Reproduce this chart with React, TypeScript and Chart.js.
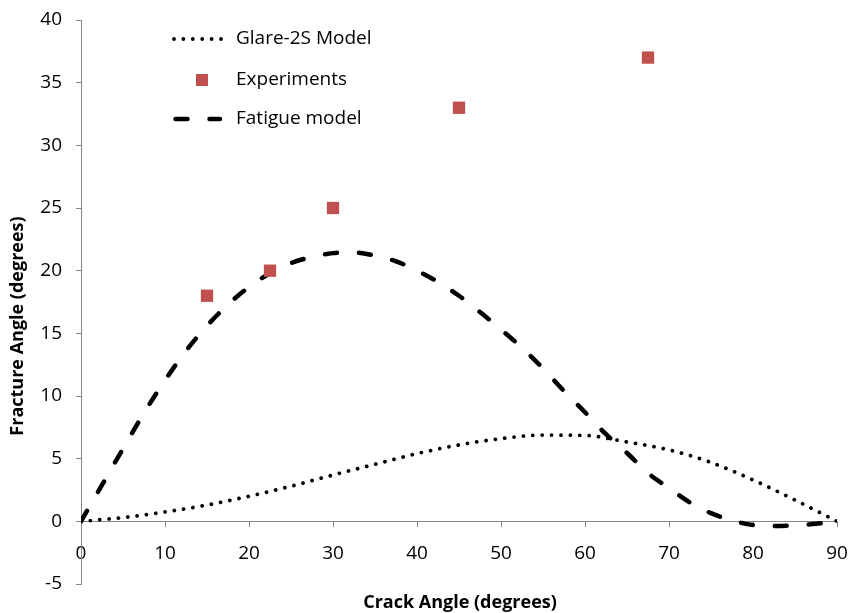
import React, { useEffect, useRef } from 'react';
import { Chart, registerables } from 'chart.js';

Chart.register(...registerables);

// ---- data ----
const glareAngles = [0, 5, 10, 15, 20, 25, 30, 35, 40, 45, 50, 55, 60, 65, 70, 75, 80, 85, 90];
const glareValues = [0, 0.3, 0.75, 1.3, 2.0, 2.8, 3.7, 4.55, 5.4, 6.1, 6.6, 6.88, 6.85, 6.33, 5.7, 4.7, 3.3, 1.7, 0];

const fatigueAngles = [0, 2.5, 5, 7.5, 10, 12.5, 15, 17.5, 20, 22.5, 25, 27.5, 30, 32.5, 35, 37.5, 40, 42.5, 45, 47.5, 50, 52.5, 55, 57.5, 60, 62.5, 65, 67.5, 70, 72.5, 75, 77.5, 80, 82.5, 85, 87.5, 90];
const fatigueValues = [0, 2.9, 5.8, 8.65, 11.25, 13.6, 15.6, 17.3, 18.7, 19.8, 20.6, 21.1, 21.4, 21.45, 21.2, 20.75, 20.0, 19.1, 18.0, 16.7, 15.3, 13.85, 12.2, 10.4, 8.7, 6.95, 5.45, 3.85, 2.65, 1.5, 0.65, 0.07, -0.3, -0.38, -0.32, -0.2, 0];

const expAngles = [15, 22.5, 30, 45, 67.5];
const expValues = [18, 20, 25, 33, 37];

const seriesNames = ['Glare-2S Model', 'Experiments', 'Fatigue model'];
const xTitle = 'Crack Angle (degrees)';
const yTitle = 'Fracture Angle (degrees)';

const xMin = 0, xMax = 90, xStep = 10;
const yMin = -5, yMax = 40, yStep = 5;

export default function App() {
  const ref = useRef<HTMLCanvasElement>(null);

  useEffect(() => {
    if (!ref.current) return;
    const font = "'Open Sans', sans-serif";
    const axisGray = '#868686';
    const expColor = '#C0504D';
    const dotDash = [0.001, 9.4];
    const longDash = [12, 22];
    const toPts = (xs: number[], ys: number[]) => xs.map((x, i) => ({ x, y: ys[i] }));

    const overlay = {
      id: 'overlay',
      afterDraw(chart: any) {
        const ctx = chart.ctx as CanvasRenderingContext2D;
        // axis titles
        ctx.save();
        ctx.fillStyle = '#000';
        ctx.font = `bold 18px ${font}`;
        ctx.textAlign = 'center';
        ctx.textBaseline = 'middle';
        ctx.fillText(xTitle, 460, 603);
        ctx.translate(18, 326);
        ctx.rotate(-Math.PI / 2);
        ctx.fillText(yTitle, 0, 0);
        ctx.restore();

        // legend
        const ds = chart.data.datasets;
        const rows = [39, 80, 119];
        ctx.save();
        ctx.font = `19px ${font}`;
        ctx.fillStyle = '#000';
        ctx.textAlign = 'left';
        ctx.textBaseline = 'middle';
        const g = ds.find((d: any) => d.label === seriesNames[0]);
        ctx.save();
        ctx.strokeStyle = g.borderColor;
        ctx.lineWidth = g.borderWidth;
        ctx.lineCap = 'round';
        ctx.setLineDash(g.borderDash);
        ctx.beginPath();
        ctx.moveTo(174, rows[0]);
        ctx.lineTo(222, rows[0]);
        ctx.stroke();
        ctx.restore();
        const e = ds.find((d: any) => d.label === seriesNames[1]);
        ctx.save();
        ctx.fillStyle = e.backgroundColor;
        ctx.fillRect(196, rows[1] - 6, 12, 12);
        ctx.restore();
        const f = ds.find((d: any) => d.label === seriesNames[2]);
        ctx.save();
        ctx.strokeStyle = f.borderColor;
        ctx.lineWidth = f.borderWidth;
        ctx.lineCap = 'round';
        ctx.setLineDash(f.borderDash);
        ctx.beginPath();
        ctx.moveTo(175.5, rows[2]);
        ctx.lineTo(220, rows[2]);
        ctx.stroke();
        ctx.restore();
        seriesNames.forEach((n, i) => ctx.fillText(n, 236, rows[i]));
        ctx.restore();
      },
    };

    const chart = new Chart(ref.current, {
      type: 'line',
      data: {
        datasets: [
          {
            label: seriesNames[1],
            data: toPts(expAngles, expValues),
            showLine: false,
            pointStyle: 'rect',
            pointRadius: 8.7,
            pointHoverRadius: 8.7,
            backgroundColor: expColor,
            borderColor: expColor,
            pointBorderWidth: 0,
            borderWidth: 0,
            order: 0,
          } as any,
          {
            label: seriesNames[2],
            data: toPts(fatigueAngles, fatigueValues),
            borderColor: '#000',
            borderWidth: 4.5,
            borderDash: longDash,
            borderCapStyle: 'round',
            pointRadius: 0,
            cubicInterpolationMode: 'monotone',
            fill: false,
            order: 1,
          } as any,
          {
            label: seriesNames[0],
            data: toPts(glareAngles, glareValues),
            borderColor: '#000',
            borderWidth: 3.8,
            borderDash: dotDash,
            borderCapStyle: 'round',
            pointRadius: 0,
            cubicInterpolationMode: 'monotone',
            fill: false,
            order: 2,
          } as any,
        ],
      },
      options: {
        responsive: false,
        animation: false,
        devicePixelRatio: 1,
        layout: { autoPadding: false, padding: { top: 20, right: 13, bottom: 29, left: 0 } },
        plugins: {
          legend: { display: false },
          tooltip: { enabled: false },
        },
        scales: {
          x: {
            type: 'linear',
            min: xMin,
            max: xMax,
            position: { y: 0 } as any,
            ticks: {
              stepSize: xStep,
              color: '#000',
              font: { family: font, size: 19 },
              padding: 16,
              maxRotation: 0,
              autoSkip: false,
            },
            grid: { display: true, drawOnChartArea: false, drawTicks: true, tickLength: 5, color: axisGray, lineWidth: 1 },
            border: { display: true, color: axisGray, width: 1 },
            afterFit: (s: any) => { s.paddingLeft = 0; s.paddingRight = 0; s.paddingTop = 0; s.paddingBottom = 0; },
          },
          y: {
            type: 'linear',
            min: yMin,
            max: yMax,
            ticks: {
              stepSize: yStep,
              color: '#000',
              font: { family: font, size: 19 },
              padding: 14,
            },
            grid: { display: true, drawOnChartArea: false, drawTicks: true, tickLength: 5, color: axisGray, lineWidth: 1 },
            border: { display: true, color: axisGray, width: 1 },
            afterFit: (s: any) => { s.width = 81; s.paddingTop = 0; s.paddingBottom = 0; s.paddingLeft = 0; s.paddingRight = 0; },
          },
        },
      } as any,
      plugins: [overlay],
    });
    return () => chart.destroy();
  }, []);

  return (
    <div style={{ position: 'absolute', left: 0, top: 0, width: 850, height: 613, background: '#fff' }}>
      <canvas ref={ref} width={850} height={613} style={{ display: 'block' }} />
    </div>
  );
}
